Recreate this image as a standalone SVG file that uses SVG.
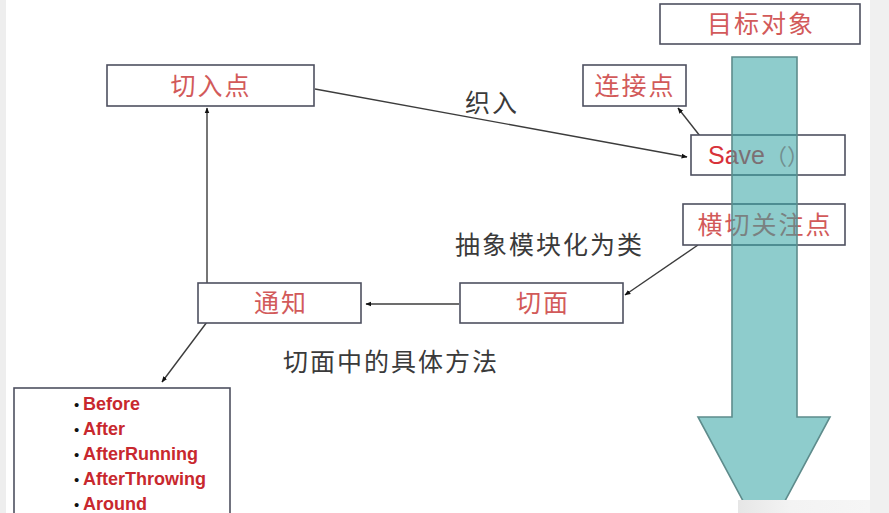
<svg xmlns="http://www.w3.org/2000/svg" width="889" height="513" viewBox="0 0 889 513">
<defs>
<style>
.box{fill:#ffffff;stroke:#4e5060;stroke-width:1.6}
.rt{font-family:"Noto Sans CJK SC","Liberation Sans",sans-serif;font-size:25px;fill:#d25a5a;letter-spacing:2px;text-anchor:middle}
.bt{font-family:"Noto Sans CJK SC","Liberation Sans",sans-serif;font-size:25px;fill:#3a3a3a;letter-spacing:2px}
.li{font-family:"Liberation Sans",Arial,sans-serif;font-size:18px;font-weight:bold;fill:#c8282e}
.bu{font-family:"Liberation Sans",Arial,sans-serif;font-size:15px;fill:#111}
.ln{fill:none;stroke:#3c3c3c;stroke-width:1.4}
</style>
<marker id="ah" viewBox="0 0 10 10" refX="9" refY="5" markerWidth="6" markerHeight="6" orient="auto" markerUnits="userSpaceOnUse">
<path d="M0,1 L10,5 L0,9 z" fill="#111"/>
</marker>
<linearGradient id="bg" x1="0" y1="0" x2="1" y2="0">
<stop offset="0" stop-color="#e6e6e6"/>
<stop offset="0.4" stop-color="#f3f3f3"/>
<stop offset="1" stop-color="#f6f6f6"/>
</linearGradient>
</defs>
<rect x="0" y="0" width="889" height="513" fill="#ffffff"/>
<rect x="0" y="0" width="6" height="513" fill="#eeeeee"/>
<rect x="870" y="0" width="19" height="513" fill="#f0f0f0"/>

<g id="connectors">
<line class="ln" x1="315" y1="89" x2="687" y2="157" marker-end="url(#ah)"/>
<line class="ln" x1="700" y1="136" x2="678" y2="108" marker-end="url(#ah)"/>
<line class="ln" x1="698" y1="245" x2="625" y2="295" marker-end="url(#ah)"/>
<line class="ln" x1="459" y1="304" x2="366" y2="304" marker-end="url(#ah)"/>
<line class="ln" x1="207" y1="283" x2="207" y2="108" marker-end="url(#ah)"/>
<line class="ln" x1="207" y1="322" x2="162" y2="382" marker-end="url(#ah)"/>
</g>

<g id="target">
<rect class="box" x="660" y="4" width="200" height="40"/>
<text class="rt" x="761" y="33">目标对象</text>
</g>
<g id="joinpoint">
<rect class="box" x="583" y="65" width="103" height="41"/>
<text class="rt" x="635" y="95">连接点</text>
</g>
<g id="save">
<rect class="box" x="691" y="135" width="154" height="40"/>
<text x="708" y="164" font-family="Liberation Sans,Arial,sans-serif" font-size="25" fill="#d8323a">Save<tspan font-family="Noto Sans CJK SC,sans-serif" font-size="22" fill="#c07878">（）</tspan></text>
</g>
<g id="crosscut">
<rect class="box" x="683" y="204" width="162" height="41"/>
<text class="rt" x="765" y="234">横切关注点</text>
</g>
<g id="pointcut">
<rect class="box" x="107" y="65" width="207" height="41"/>
<text class="rt" x="211" y="95">切入点</text>
</g>
<g id="advice">
<rect class="box" x="198" y="283" width="163" height="40"/>
<text class="rt" x="281" y="312">通知</text>
</g>
<g id="aspect">
<rect class="box" x="460" y="283" width="163" height="40"/>
<text class="rt" x="543" y="312">切面</text>
</g>
<g id="advicelist">
<rect class="box" x="14" y="388" width="216" height="135"/>
<text class="bu" x="74" y="410">•</text><text class="li" x="83" y="410">Before</text>
<text class="bu" x="74" y="435">•</text><text class="li" x="83" y="435">After</text>
<text class="bu" x="74" y="460">•</text><text class="li" x="83" y="460">AfterRunning</text>
<text class="bu" x="74" y="485">•</text><text class="li" x="83" y="485">AfterThrowing</text>
<text class="bu" x="74" y="510">•</text><text class="li" x="83" y="510">Around</text>
</g>

<g id="labels">
<text class="bt" x="465" y="112">织入</text>
<text class="bt" x="455" y="254">抽象模块化为类</text>
<text class="bt" x="283" y="371">切面中的具体方法</text>
</g>

<g id="flow-arrow">
<path d="M732,57 L797,57 L797,417 L830,417 L764,540 L698,417 L732,417 Z" fill="#32a2a2" fill-opacity="0.55" stroke="#5e8c8c" stroke-width="1.6"/>
</g>

<rect x="738" y="500" width="132" height="13" fill="url(#bg)"/>
</svg>
